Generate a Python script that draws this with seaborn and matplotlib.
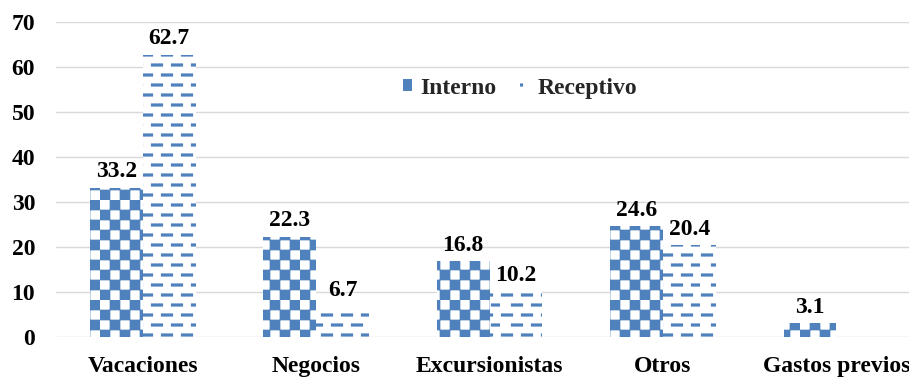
import numpy as np
import pandas as pd
import matplotlib
matplotlib.use("Agg")
import matplotlib.pyplot as plt
import matplotlib.hatch as mhatch
from matplotlib.path import Path
from matplotlib.patches import Patch
import seaborn as sns

categories = ["Vacaciones", "Negocios", "Excursionistas", "Otros", "Gastos previos"]
interno = [33.2, 22.3, 16.8, 24.6, 3.1]
receptivo = [62.7, 6.7, 10.2, 20.4, np.nan]
series = ["Interno", "Receptivo"]

df = pd.DataFrame({
    "cat": categories * 2,
    "serie": [series[0]] * len(categories) + [series[1]] * len(categories),
    "val": interno + receptivo,
})


# --- custom hatch patterns: dashed rows ('-') and checkerboard ('o') ---
class DashedRows(mhatch.HatchPatternBase):
    def __init__(self, hatch, density):
        self.on = hatch.count('-') > 0
        self.rows, self.per = 10, 5
        self.num_vertices = self.rows * self.per * 2 if self.on else 0

    def set_vertices_and_codes(self, vertices, codes):
        i = 0
        p = 1.0 / self.per
        for r in range(self.rows):
            y = (r + 0.5) / self.rows
            off = 0.0 if r % 2 == 0 else p / 2
            for k in range(self.per):
                x0 = k * p + off + 0.025
                vertices[i] = (x0, y)
                vertices[i + 1] = (x0 + 0.09, y)
                codes[i] = Path.MOVETO
                codes[i + 1] = Path.LINETO
                i += 2


class Checker(mhatch.HatchPatternBase):
    def __init__(self, hatch, density):
        self.on = hatch.count('o') > 0
        self.n = 10
        self.num_vertices = (self.n * self.n // 2) * 5 if self.on else 0

    def set_vertices_and_codes(self, vertices, codes):
        i = 0
        c = 1.0 / self.n
        s = 0.075
        m = (c - s) / 2
        for r in range(self.n):
            for k in range(self.n):
                if (r + k) % 2:
                    continue
                x0, y0 = k * c + m, r * c + m
                vertices[i:i + 5] = [(x0, y0), (x0 + s, y0), (x0 + s, y0 + s),
                                     (x0, y0 + s), (x0, y0)]
                codes[i:i + 5] = [Path.MOVETO, Path.LINETO, Path.LINETO,
                                  Path.LINETO, Path.CLOSEPOLY]
                i += 5


mhatch._hatch_types[:] = [DashedRows, Checker]

sns.set_theme(style="white")
plt.rcParams["font.family"] = ["Liberation Serif", "DejaVu Serif"]
plt.rcParams["font.weight"] = "bold"
plt.rcParams["hatch.linewidth"] = 2.3

blue = "#4F81BD"
fig = plt.figure(figsize=(9.09, 3.77), dpi=100)
ax = fig.add_axes([0.0616, 0.106, 0.954, 0.836])
sns.barplot(data=df, x="cat", y="val", hue="serie", order=categories,
            hue_order=series, width=0.61, ax=ax, errorbar=None, legend=False)

hatches = ["o", "-"]
for cont, h_ in zip(ax.containers, hatches):
    for p in cont.patches:
        if p is None:
            continue
        p.set_facecolor("white")
        p.set_edgecolor(blue)
        p.set_hatch(h_)
        p.set_linewidth(0)
        h = p.get_height()
        if np.isfinite(h):
            ax.annotate(f"{h:.1f}", (p.get_x() + p.get_width() / 2, h),
                        xytext=(0, 4), textcoords="offset points",
                        ha="center", va="bottom", fontsize=17,
                        fontweight="bold", color="black")

ax.set_ylim(0, 70)
ax.set_yticks(range(0, 71, 10))
ax.grid(axis="y", color="#D9D9D9", linewidth=1)
ax.set_axisbelow(True)
for s in ax.spines.values():
    s.set_visible(False)
ax.set_xlabel("")
ax.set_ylabel("")
ax.tick_params(axis="both", length=0, labelsize=17, colors="black")
ax.tick_params(axis="y", pad=15)
ax.tick_params(axis="x", pad=14)
for t in ax.get_xticklabels() + ax.get_yticklabels():
    t.set_fontweight("bold")

handles = [Patch(facecolor=blue, edgecolor="white", hatch="", linewidth=0),
           Patch(facecolor="white", edgecolor=blue, hatch="-", linewidth=0)]
leg = ax.legend(handles, series, loc="center", bbox_to_anchor=(0.535, 0.79),
                ncol=2, frameon=False, fontsize=17, handlelength=0.4,
                handleheight=0.4, columnspacing=1.0, handletextpad=0.35,
                borderpad=0)
for t in leg.get_texts():
    t.set_fontweight("bold")

fig.savefig("out.png", dpi=100)
